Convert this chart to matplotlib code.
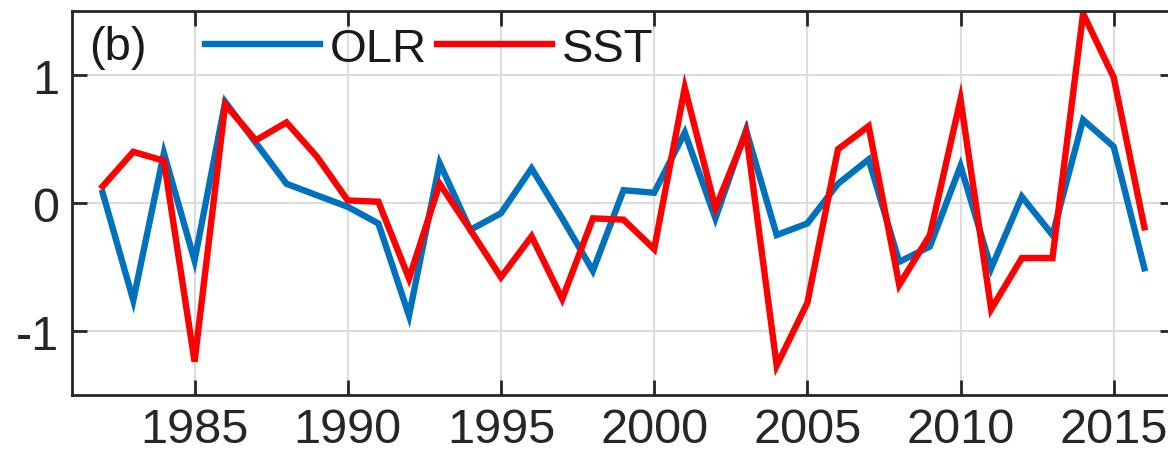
import numpy as np
import matplotlib.pyplot as plt

plt.rcParams['font.family'] = ['Liberation Sans', 'DejaVu Sans']
plt.rcParams['axes.unicode_minus'] = False

years = np.arange(1982, 2017)
olr = [0.08, -0.76, 0.39, -0.45, 0.79, 0.47, 0.15, 0.06, -0.03, -0.16,
       -0.88, 0.31, -0.21, -0.08, 0.27, -0.12, -0.53, 0.10, 0.08, 0.55,
       -0.12, 0.57, -0.25, -0.16, 0.15, 0.34, -0.46, -0.34, 0.29, -0.51,
       0.05, -0.25, 0.65, 0.44, -0.51]
sst = [0.13, 0.40, 0.33, -1.24, 0.77, 0.49, 0.63, 0.36, 0.02, 0.01,
       -0.59, 0.15, -0.21, -0.58, -0.26, -0.75, -0.12, -0.13, -0.36, 0.90,
       -0.04, 0.55, -1.27, -0.78, 0.42, 0.60, -0.64, -0.25, 0.81, -0.83,
       -0.43, -0.43, 1.48, 0.98, -0.19]

fig = plt.figure(figsize=(11.68, 4.52), dpi=100)
ax = fig.add_axes([72/1168, 1-396/452, (1175-72)/1168, (396-12)/452])

ax.plot(years, olr, color='#0072BD', lw=4.6, label='OLR', solid_joinstyle='miter')
ax.plot(years, sst, color='#FF0000', lw=4.6, label='SST', solid_joinstyle='miter')

ax.set_xlim(1981, 2017)
ax.set_ylim(-1.5, 1.5)
ax.set_xticks(np.arange(1985, 2016, 5))
ax.set_yticks([-1, 0, 1])
ax.grid(True, color='#dcdcdc', lw=1.5)
ax.set_axisbelow(True)

for s in ax.spines.values():
    s.set_linewidth(2)
    s.set_color('#262626')
ax.tick_params(direction='in', length=11, width=2, color='#262626',
               labelsize=35, labelcolor='#262626',
               top=True, right=True, pad=9)

fig.text(89/1168, 1-48/452, '(b)', fontsize=34, va='center',
         ha='left', color='#1a1a1a')

leg = ax.legend(loc='center left', bbox_to_anchor=(205/1168, 1-50/452),
                bbox_transform=fig.transFigure, ncol=2, frameon=False,
                fontsize=34, handlelength=2.44, handletextpad=0.21,
                columnspacing=0.2, borderpad=0, borderaxespad=0)
for t in leg.get_texts():
    t.set_color('#1a1a1a')

fig.savefig('out.png', dpi=100)
